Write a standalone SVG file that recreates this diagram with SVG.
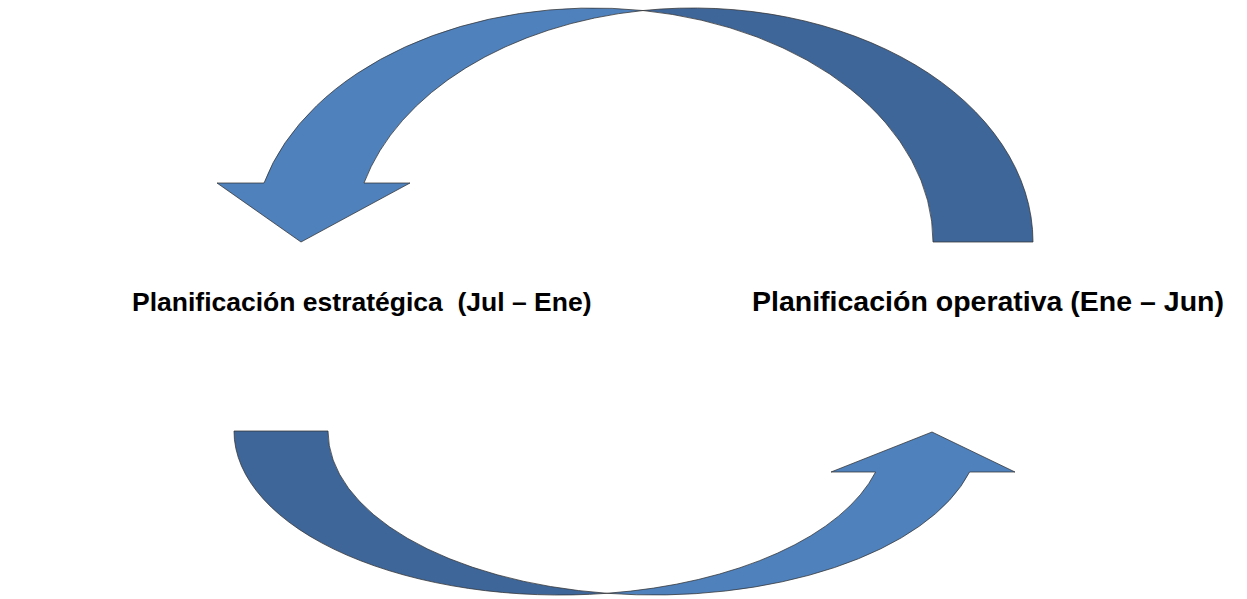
<svg xmlns="http://www.w3.org/2000/svg" width="1247" height="599" viewBox="0 0 1247 599">
  <style>
    .front { fill: #4F81BD; stroke: #333; stroke-width: 1; stroke-opacity: 0.75; stroke-linejoin: miter; }
    .back { fill: #3F6699; stroke: #333; stroke-width: 1; stroke-opacity: 0.75; }
    .label { font-family: "Liberation Sans", Arial, sans-serif; font-weight: bold; fill: #000; }
  </style>
  <rect width="1247" height="599" fill="#fff"/>
  <g id="connectors">
    <g id="arrow-top">
      <path class="back" d="M 643,10.54 A 340 234 0 0 1 1033,242 L 933,242 A 340 234 0 0 0 643,10.54 Z"/>
      <path class="front" d="M 643,10.54 A 340 234 0 0 0 264,183 L 217,183 L 301,242 L 410,183 L 364,183 A 340 234 0 0 1 643,10.54 Z"/>
    </g>
    <g id="arrow-bottom">
      <path class="back" d="M 234,431 A 326 164 0 0 0 607,593.3 A 326 164 0 0 1 328,431 Z"/>
      <path class="front" d="M 607,593.3 A 326 164 0 0 0 969.6,472 L 1015,472 L 932,432 L 831,472 L 875.6,472 A 326 164 0 0 1 607,593.3 Z"/>
    </g>
  </g>
  <g id="node-estrategica">
    <text class="label" x="132" y="311" font-size="26.5" xml:space="preserve">Planificación estratégica  (Jul – Ene)</text>
  </g>
  <g id="node-operativa">
    <text class="label" x="752" y="311" font-size="28.5">Planificación operativa (Ene – Jun)</text>
  </g>
</svg>
